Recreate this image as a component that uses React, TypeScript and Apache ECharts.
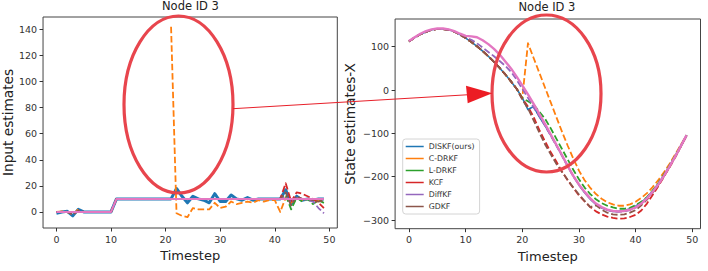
import React, { useEffect, useRef } from "react";
import * as echarts from "echarts";

const FONT = "DejaVu Sans";

const timesteps = [0, 1, 2, 3, 4, 5, 6, 7, 8, 9, 10, 11, 12, 13, 14, 15, 16, 17, 18, 19, 20, 21, 22, 23, 24, 25, 26, 27, 28, 29, 30, 31, 32, 33, 34, 35, 36, 37, 38, 39, 40, 41, 42, 43, 44, 45, 46, 47, 48, 49];

const xTicks = [0, 10, 20, 30, 40, 50];
const inputTicks = [0, 20, 40, 60, 80, 100, 120, 140];
const stateTicks = [-300, -200, -100, 0, 100];

const legendNames = ["DISKF(ours)", "C-DRKF", "L-DRKF", "KCF", "DiffKF", "GDKF"];
const truthName = "Ground truth";

// ---- Left panel: input estimates ----
const truthInput = [0, 0, 0, 0, 0, 0, 0, 0, 0, 0, 0, 10, 10, 10, 10, 10, 10, 10, 10, 10, 10, 10, 10, 10, 10, 10, 10, 10, 10, 10, 10, 10, 10, 10, 10, 10, 10, 10, 10, 10, 10, 10, 10, 10, 10, 10, 10, 10, 10, 10];
const diskfInput = [-1, 0, 0.5, -3, 2, 0, 0, 0, 0, 0, 0, 10, 10, 10, 10, 10, 10, 10, 10, 10, 10, 10, 18, 12, 7, 12, 10, 9, 7, 14, 8, 8, 13, 10, 9, 11, 9, 10, 10, 10, 10, 10, 17, 6, 12, 9, 10, 9, 10, 10];
const cdrkfInput = [0, 0.5, 0, -2, 2, null, null, null, null, null, null, null, null, null, null, null, null, null, null, null, null, 142, -1, -3, -4, 3, 2, 2, 2, 7, 3, 4, 8, 6, 7, 8, 7, 9, 8, 9, 9, 0, 11, 7, 11, 9, 10, 9, 9, 9];
const ldrkfInput = [0, 0, 0, -2, 1, 0, 0, 0, 0, 0, 0, 10, 10, 10, 10, 10, 10, 10, 10, 10, 10, 10, 10, 10, 10, 10, 10, 10, 10, 10, 10, 10, 10, 10, 10, 10, 10, 10, 10, 10, 10, 10, 13, 2, 11, 8, 10, 6, 9, 7];
const kcfInput = [0, 0, 0, -2, 1, 0, 0, 0, 0, 0, 0, 10, 10, 10, 10, 10, 10, 10, 10, 10, 10, 10, 10, 10, 10, 10, 10, 10, 10, 10, 10, 10, 10, 10, 10, 10, 10, 10, 10, 10, 10, 10, 22, 8, 15, 14, 12, 10, 7, 3];
const diffkfInput = [0, 0, 0, -2, 1, 0, 0, 0, 0, 0, 0, 10, 10, 10, 10, 10, 10, 10, 10, 10, 10, 10, 10, 10, 10, 10, 10, 10, 10, 10, 10, 10, 10, 10, 10, 10, 10, 10, 10, 10, 10, 10, 12, 7, 11, 10, 9, 8, 3, -1];
const gdkfInput = [0, 0, 0, -2, 1, 0, 0, 0, 0, 0, 0, 10, 10, 10, 10, 10, 10, 10, 10, 10, 10, 10, 10, 10, 10, 10, 10, 10, 10, 10, 10, 10, 10, 10, 10, 10, 10, 10, 10, 10, 10, 10, 15, 5, 12, 10, 10, 9, 8, 9];

// ---- Right panel: state estimates-X ----
const truthState = [113, 122, 130, 136, 140, 142, 142, 140, 136, 130, 125, 124, 122, 115, 106, 95, 82, 66, 50, 31, 11, -10, -32, -55, -78, -102, -126, -150, -175, -198, -218, -235, -250, -262, -270, -276, -279, -280, -279, -276, -271, -262, -250, -235, -218, -198, -176, -153, -129, -104];
const diskfState = [112, 121, 129, 134, 139, 141, 141, 139, 135, 128, 120, 111, 101, 90, 78, 65, 51, 36, 20, 3, -18, -45, -38, -62, -82, -104, -127, -151, -175, -198, -219, -237, -252, -264, -272, -277, -280, -280, -278, -274, -268, -259, -248, -233, -216, -197, -175, -152, -128, -104];
const cdrkfState = [112, 121, 129, 134, 139, 141, 141, 139, 135, 128, 120, 111, 101, 90, 78, 65, 51, 36, 20, 3, -18, 108, 74, 40, 6, -28, -62, -96, -128, -158, -186, -208, -226, -240, -251, -259, -264, -267, -267, -264, -258, -249, -238, -224, -208, -190, -170, -148, -126, -104];
const ldrkfState = [112, 121, 129, 134, 139, 141, 141, 139, 135, 128, 120, 111, 101, 90, 78, 65, 51, 36, 20, 3, -18, -26, -34, -50, -66, -88, -112, -136, -160, -184, -206, -225, -240, -252, -261, -267, -271, -274, -274, -272, -266, -258, -247, -232, -215, -195, -174, -151, -128, -104];
const kcfState = [112, 121, 129, 134, 139, 141, 141, 139, 135, 128, 120, 111, 101, 90, 78, 65, 51, 36, 20, 3, -20, -38, -62, -92, -118, -143, -165, -188, -208, -226, -243, -257, -270, -280, -287, -292, -295, -297, -296, -293, -288, -278, -262, -242, -222, -200, -178, -155, -130, -105];
const diffkfState = [112, 121, 129, 134, 139, 141, 141, 139, 135, 128, 121, 116, 108, 98, 88, 78, 67, 56, 42, 24, 3, -18, -40, -60, -82, -105, -128, -152, -176, -199, -219, -236, -251, -263, -271, -277, -280, -281, -280, -277, -271, -262, -250, -234, -217, -197, -175, -152, -128, -104];
const gdkfState = [112, 121, 129, 134, 139, 141, 141, 139, 135, 128, 120, 111, 101, 90, 78, 65, 51, 36, 20, 3, -22, -42, -70, -98, -125, -148, -170, -189, -207, -225, -241, -256, -270, -266, -276, -283, -287, -288, -287, -283, -277, -266, -253, -237, -219, -199, -177, -154, -130, -105];

const colors = ["#1f77b4", "#ff7f0e", "#2ca02c", "#d62728", "#9467bd", "#8c564b"];
const truthColor = "#e377c2";

function pairs(values: (number | null)[]) {
  return timesteps.map((t, i) => [t, values[i] === null ? null : values[i]]);
}

function lineSeries(name: string, values: (number | null)[], idx: number, color: string, width: number, dashed: boolean, z: number) {
  return {
    type: "line",
    name,
    xAxisIndex: idx,
    yAxisIndex: idx,
    data: pairs(values),
    symbol: "none",
    showSymbol: false,
    connectNulls: false,
    z,
    lineStyle: {
      color,
      width,
      type: dashed ? [6.5, 2.8] : "solid",
      cap: "butt",
      join: "round",
    },
    itemStyle: { color },
    emphasis: { disabled: true },
  };
}

function xAxisFor(idx: number) {
  return {
    gridIndex: idx,
    type: "value",
    min: -2.45,
    max: 51.45,
    axisLine: { show: false, onZero: false },
    splitLine: { show: false },
    axisTick: { show: true, customValues: xTicks, length: 3.5, lineStyle: { color: "#333", width: 1 } },
    axisLabel: { customValues: xTicks, fontSize: 9.5, color: "#333", margin: 6, fontFamily: FONT },
    name: "Timestep",
    nameLocation: "middle",
    nameGap: 19,
    nameTextStyle: { fontSize: 13, color: "#222", fontFamily: FONT },
  };
}

function yAxisFor(idx: number, min: number, max: number, ticks: number[], name: string, gap: number) {
  return {
    gridIndex: idx,
    type: "value",
    min,
    max,
    axisLine: { show: false, onZero: false },
    splitLine: { show: false },
    axisTick: { show: true, customValues: ticks, length: 3.5, lineStyle: { color: "#333", width: 1 } },
    axisLabel: {
      customValues: ticks,
      fontSize: 9.5,
      color: "#333",
      margin: 6,
      fontFamily: FONT,
      formatter: (v: number) => (v < 0 ? "\u2212" + Math.abs(v) : String(v)),
    },
    name,
    nameLocation: "middle",
    nameGap: gap,
    nameTextStyle: { fontSize: 13.7, color: "#222", fontFamily: FONT },
  };
}

export default function App() {
  const ref = useRef<HTMLDivElement>(null);

  useEffect(() => {
    if (!ref.current) return;
    const chart = echarts.init(ref.current, undefined, { renderer: "svg" });

    const inputs = [diskfInput, cdrkfInput, ldrkfInput, kcfInput, diffkfInput, gdkfInput];
    const states = [diskfState, cdrkfState, ldrkfState, kcfState, diffkfState, gdkfState];

    const series: any[] = [];
    legendNames.forEach((n, i) => {
      series.push(lineSeries(n, inputs[i], 0, colors[i], i === 0 ? 3 : 1.8, i !== 0, 2 + i));
    });
    series.push(lineSeries(truthName, truthInput, 0, truthColor, 2, false, 10));
    legendNames.forEach((n, i) => {
      series.push(lineSeries(n, states[i], 1, colors[i], i === 0 ? 1.6 : 1.8, i !== 0, 2 + i));
    });
    series.push(lineSeries(truthName, truthState, 1, truthColor, 2.4, false, 10));

    const gridStyle = { show: true, borderColor: "#444", borderWidth: 1, backgroundColor: "transparent" };

    chart.setOption({
      animation: false,
      textStyle: { fontFamily: FONT },
      title: [
        { text: "Node ID 3", left: 162, top: 0, padding: 0, textStyle: { fontSize: 11.5, fontWeight: "normal", color: "#222", fontFamily: FONT } },
        { text: "Node ID 3", left: 518.5, top: 1, padding: 0, textStyle: { fontSize: 11.5, fontWeight: "normal", color: "#222", fontFamily: FONT } },
      ],
      grid: [
        { left: 42.6, top: 17, width: 294.7, height: 211, ...gridStyle },
        { left: 395.1, top: 19, width: 305.4, height: 209.7, ...gridStyle },
      ],
      xAxis: [xAxisFor(0), xAxisFor(1)],
      yAxis: [
        yAxisFor(0, -12.3, 149.4, inputTicks, "Input estimates", 28),
        yAxisFor(1, -320, 164, stateTicks, "State estimates-X", 38),
      ],
      legend: {
        data: legendNames,
        orient: "vertical",
        left: 402.7,
        top: 139,
        icon: "rect",
        itemWidth: 18,
        itemHeight: 1.5,
        itemGap: 3,
        padding: [3, 5, 3, 3],
        backgroundColor: "#fff",
        borderColor: "#d4d4d4",
        borderWidth: 1,
        borderRadius: 3,
        textStyle: { fontSize: 7.8, color: "#333", fontFamily: FONT, lineHeight: 9 },
        selectedMode: false,
      },
      graphic: [
        { type: "ellipse", z: 100, shape: { cx: 178.5, cy: 104.5, rx: 54.5, ry: 88.5 }, style: { fill: "none", stroke: "#e8454d", lineWidth: 3.2 } },
        { type: "ellipse", z: 100, shape: { cx: 546.5, cy: 93.5, rx: 54.5, ry: 78.5 }, style: { fill: "none", stroke: "#e8454d", lineWidth: 3.2 } },
        { type: "line", z: 100, shape: { x1: 233, y1: 108.7, x2: 467, y2: 94.8 }, style: { stroke: "#e8202a", lineWidth: 1 } },
        { type: "polygon", z: 100, shape: { points: [[492.3, 93.3], [466, 85.7], [467.7, 103.3]] }, style: { fill: "#ec1c24" } },
      ],
      series,
    });

    return () => chart.dispose();
  }, []);

  return <div ref={ref} style={{ position: "fixed", left: 0, top: 0, width: 708, height: 271, background: "#fff" }} />;
}
